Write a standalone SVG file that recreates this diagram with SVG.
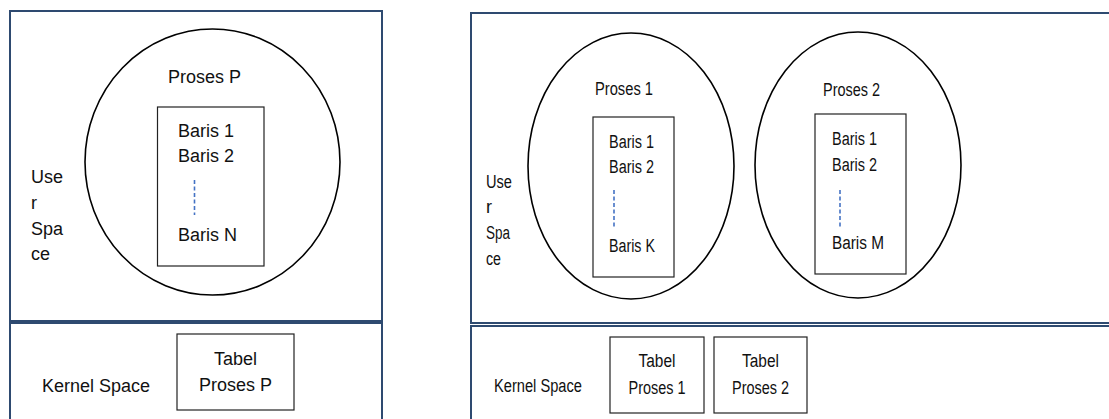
<svg xmlns="http://www.w3.org/2000/svg" width="1109" height="419" viewBox="0 0 1109 419">
<style>
.panel{fill:#fff;stroke:#2E4A70;stroke-width:2}
.proc{fill:none;stroke:#000;stroke-width:1.6}
.box{fill:#fff;stroke:#222;stroke-width:1.2}
.dash{stroke:#4472C4;stroke-width:1.6;stroke-dasharray:4 2.5}
text{font-family:"Liberation Sans",Arial,sans-serif;font-size:18px;fill:#111}
text.r{font-size:18px}
.m{text-anchor:middle}
</style>
<rect width="1109" height="419" fill="#fff"/>
<g id="left-user-space">
<rect class="panel" x="10" y="11" width="372" height="310"/>
<text x="31" y="183">Use</text>
<text x="31" y="209">r</text>
<text x="31" y="235">Spa</text>
<text x="31" y="260">ce</text>
</g>
<g id="left-kernel-space">
<rect class="panel" x="10" y="323" width="372" height="110"/>
<text x="42" y="392">Kernel Space</text>
</g>
<g id="proses-p">
<ellipse class="proc" cx="212.5" cy="162" rx="127.5" ry="133"/>
<text x="168" y="83">Proses P</text>
<rect class="box" x="157.5" y="107" width="106.5" height="159"/>
<text x="178" y="137">Baris 1</text>
<text x="178" y="162">Baris 2</text>
<text x="178" y="241">Baris N</text>
</g>
<g id="tabel-proses-p">
<rect class="box" x="177" y="334" width="117" height="76"/>
<text class="m" x="235.5" y="365">Tabel</text>
<text class="m" x="235.5" y="391">Proses P</text>
</g>
<g id="right-user-space">
<rect class="panel" x="471" y="13" width="700" height="310"/>
<text class="r" x="486" y="188" textLength="26" lengthAdjust="spacingAndGlyphs">Use</text>
<text class="r" x="486" y="213">r</text>
<text class="r" x="486" y="239" textLength="24" lengthAdjust="spacingAndGlyphs">Spa</text>
<text class="r" x="486" y="265" textLength="15" lengthAdjust="spacingAndGlyphs">ce</text>
</g>
<g id="right-kernel-space">
<rect class="panel" x="471" y="326" width="700" height="110"/>
<text class="r" x="494" y="392" textLength="88" lengthAdjust="spacingAndGlyphs">Kernel Space</text>
</g>
<g id="proses-1">
<ellipse class="proc" cx="631" cy="166" rx="103" ry="133"/>
<text class="r" x="595" y="95" textLength="58" lengthAdjust="spacingAndGlyphs">Proses 1</text>
<rect class="box" x="593" y="117" width="81" height="160"/>
<text class="r" x="609" y="148" textLength="45" lengthAdjust="spacingAndGlyphs">Baris 1</text>
<text class="r" x="609" y="173" textLength="45" lengthAdjust="spacingAndGlyphs">Baris 2</text>
<text class="r" x="609" y="252" textLength="46" lengthAdjust="spacingAndGlyphs">Baris K</text>
</g>
<g id="proses-2">
<ellipse class="proc" cx="858" cy="165" rx="103" ry="133"/>
<text class="r" x="823" y="96" textLength="57" lengthAdjust="spacingAndGlyphs">Proses 2</text>
<rect class="box" x="815" y="114" width="91" height="160"/>
<text class="r" x="832" y="145" textLength="45" lengthAdjust="spacingAndGlyphs">Baris 1</text>
<text class="r" x="832" y="171" textLength="45" lengthAdjust="spacingAndGlyphs">Baris 2</text>
<text class="r" x="832" y="249" textLength="52" lengthAdjust="spacingAndGlyphs">Baris M</text>
</g>
<g id="tabel-proses-1">
<rect class="box" x="610" y="337" width="94" height="76"/>
<text class="r m" x="657" y="367" textLength="37" lengthAdjust="spacingAndGlyphs">Tabel</text>
<text class="r m" x="657" y="394" textLength="57" lengthAdjust="spacingAndGlyphs">Proses 1</text>
</g>
<g id="tabel-proses-2">
<rect class="box" x="714" y="337" width="93" height="76"/>
<text class="r m" x="760.5" y="367" textLength="37" lengthAdjust="spacingAndGlyphs">Tabel</text>
<text class="r m" x="760.5" y="394" textLength="57" lengthAdjust="spacingAndGlyphs">Proses 2</text>
</g>
<g id="connectors">
<line class="dash" x1="194.5" y1="180" x2="194.5" y2="215"/>
<line class="dash" x1="614" y1="190" x2="614" y2="227"/>
<line class="dash" x1="840" y1="190" x2="840" y2="227"/>
</g>
</svg>
